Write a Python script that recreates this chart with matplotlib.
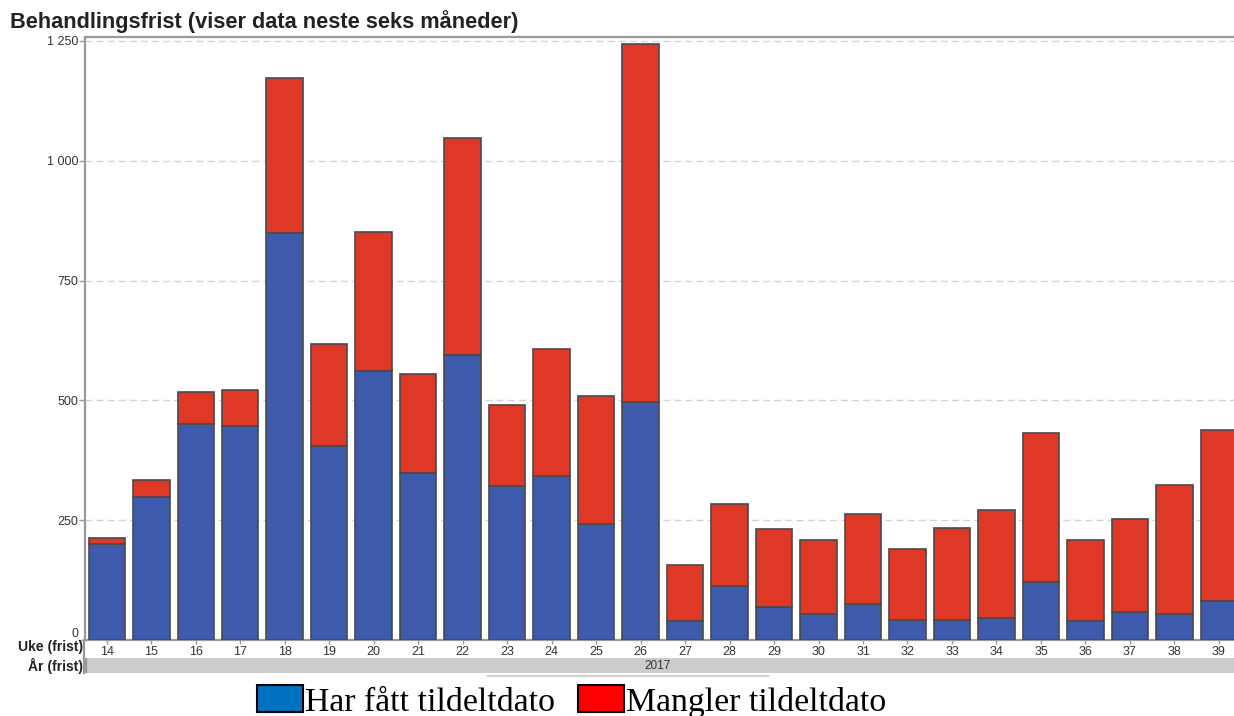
import matplotlib

matplotlib.use("Agg")
import matplotlib.pyplot as plt
from matplotlib.patches import Rectangle

# week numbers (frist) and counts per week
weeks = [14, 15, 16, 17, 18, 19, 20, 21, 22, 23, 24, 25, 26,
         27, 28, 29, 30, 31, 32, 33, 34, 35, 36, 37, 38, 39]
har_dato = [200, 299, 450, 447, 849, 405, 561, 348, 595, 321, 342, 242, 497,
            39, 112, 68, 55, 76, 42, 42, 45, 120, 40, 58, 55, 81]
totalt = [213, 334, 517, 522, 1172, 618, 851, 555, 1048, 490, 607, 509, 1243,
          156, 283, 232, 208, 263, 190, 234, 271, 431, 208, 252, 324, 439]
mangler_dato = [t - h for t, h in zip(totalt, har_dato)]
y_ticks = [0, 250, 500, 750, 1000, 1250]
year_label = "2017"

W, H = 1234, 716
BLUE = "#3d5aad"
RED = "#df3826"
EDGE = "#4a4a4a"
AXIS = "#9a9a9a"

plt.rcParams["font.family"] = ["Liberation Sans", "DejaVu Sans"]

fig = plt.figure(figsize=(W / 100, H / 100), dpi=100)
fig.patch.set_facecolor("white")


def fx(px):
    return px / W


def fy(py):
    return 1 - py / H


ax = fig.add_axes([fx(85), fy(640), fx(W - 85), (640 - 37) / H])
ax.bar(weeks, har_dato, width=0.82, color=BLUE, edgecolor=EDGE, linewidth=1.2, zorder=3)
ax.bar(weeks, mangler_dato, width=0.82, bottom=har_dato, color=RED,
       edgecolor=EDGE, linewidth=1.2, zorder=3)

ax.set_xlim(13.51, 39.34)
ax.set_ylim(0, 1258)
ax.set_yticks(y_ticks)
ax.set_yticklabels([f"{v:,}".replace(",", " ") for v in y_ticks])
ax.set_xticks(weeks)
ax.set_xticklabels([str(w) for w in weeks])
ax.grid(axis="y", linestyle=(0, (5, 3)), color="#d4d4d4", linewidth=1, zorder=0)
ax.tick_params(axis="y", length=4, width=1, color=AXIS, labelsize=9,
               labelcolor="#333333", pad=1)
ax.tick_params(axis="x", length=3, width=1, color=AXIS, labelsize=9,
               labelcolor="#333333", pad=1.5)
# the zero label sits just above the baseline
ax.get_yticklabels()[0].set_va("bottom")
for side in ("left", "top", "bottom"):
    ax.spines[side].set_color(AXIS)
    ax.spines[side].set_linewidth(1.6)
ax.spines["right"].set_visible(False)

fig.text(fx(10), fy(28), "Behandlingsfrist (viser data neste seks måneder)",
         fontsize=15.7, fontweight="bold", color="#222222", va="baseline")

# year band under the week labels
band = fig.add_axes([fx(85), fy(672.7), fx(W - 85), 15 / H])
band.set_facecolor("#cccccc")
band.set_xticks([])
band.set_yticks([])
for side in band.spines:
    band.spines[side].set_visible(False)
band.axvline(0, color=AXIS, linewidth=2.5)
band.text(fx(658 - 85) / fx(W - 85), 0.45, year_label, transform=band.transAxes,
          ha="center", va="center", fontsize=8.5, color="#333333")

fig.text(fx(83), fy(647.5), "Uke (frist)", ha="right", va="center",
         fontsize=10, fontweight="bold", color="#222222")
fig.text(fx(83), fy(665.5), "År (frist)", ha="right", va="center",
         fontsize=10, fontweight="bold", color="#222222")
fig.add_artist(plt.Line2D([fx(84), fx(84)], [fy(640), fy(673)], color=AXIS, linewidth=1.6))

# faint scroll line under the band
fig.add_artist(plt.Line2D([fx(488), fx(768)], [fy(676), fy(676)],
                          color="#cfcfcf", linewidth=1.5))

# legend drawn as boxes and serif text
legend_items = [("Har fått tildeltdato", "#0070c0", 257), ("Mangler tildeltdato", "#ff0000", 578)]
for label, color, x0 in legend_items:
    fig.add_artist(Rectangle((fx(x0), fy(712)), fx(46), 27 / H, facecolor=color,
                             edgecolor="black", linewidth=1.5, transform=fig.transFigure))
    fig.text(fx(x0 + 48), fy(711), label, fontsize=24.3, family="Liberation Serif",
             color="black", va="baseline")

fig.savefig("out.png", dpi=100)
